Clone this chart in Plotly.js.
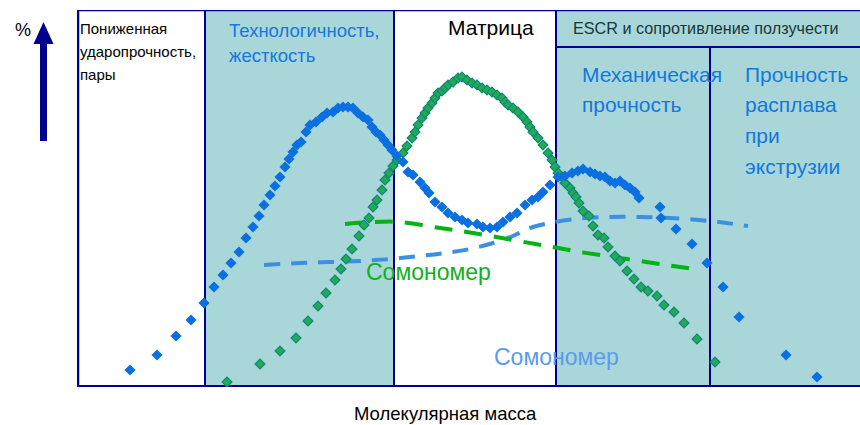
<!DOCTYPE html>
<html>
<head>
<meta charset="utf-8">
<script src="https://cdn.plot.ly/plotly-3.0.1.min.js"></script>
<style>html,body{margin:0;padding:0;background:#fff;}#chart{width:860px;height:425px;}</style>
</head>
<body>
<div id="chart"></div>
<script>
// Molecular mass (relative units) and percentage (relative units)
const blueX = [130,157,176,191,204,214,223,231,239,246,253,259,264,270,275,280,285,289,293,297,301,306,310,316,322,327,333,338,343,348,353,358,363,368,372,376,380,384,388,392,397,403,408,413,420,425,429,435,442,448,455,462,468,477,483,490,497,503,510,517,525,532,538,543,550,558,565,572,578,583,590,595,600,605,610,615,620,625,630,635,639,660,661,676,692,707,723,739,786,817];
const blueY = [17,32,51,67,84,100,112,124,135,149,160,171,182,192,201,210,220,228,235,242,245,255,262,265,270,274,275,279,280,280,279,274,270,267,260,255,252,247,242,237,231,225,215,212,205,199,194,185,180,174,170,167,164,163,160,159,160,165,170,174,182,187,190,195,202,210,211,214,216,218,215,213,211,210,206,204,206,202,199,195,189,180,169,158,143,124,100,70,32,10];

const greenX = [227,260,280,296,308,318,326,335,341,346,352,359,364,369,373,377,382,385,389,393,397,403,407,412,415,418,422,425,428,432,435,438,442,445,448,453,458,462,467,472,477,482,487,492,497,502,505,508,513,518,523,527,530,533,538,543,548,552,555,558,562,565,570,573,576,579,583,589,593,598,604,608,615,620,627,634,641,648,657,664,674,684,697,715];
const greenY = [5,23,36,49,66,81,94,107,118,128,138,151,162,169,180,187,197,207,214,221,227,234,241,249,255,262,269,274,279,284,289,294,296,299,302,305,309,310,307,304,302,299,297,295,292,289,285,282,279,275,270,265,260,255,249,242,234,227,220,214,210,204,199,194,190,184,176,171,161,152,149,140,131,126,116,108,100,96,91,82,75,64,48,25];

const comonomerGreenX = [345,373,400,440,473,513,547,580,620,660,694];
const comonomerGreenY = [163,165,165,159,154,147,141,135,129,123,118];

const comonomerBlueX = [264,300,330,360,390,420,445,470,493,513,530,550,575,607,640,670,710,748];
const comonomerBlueY = [122,124,125,126,128,131,134,138,144,151,159,164,168,170,170,169,166,161];

// Zone boundaries along the molecular mass axis
const zoneEdges = [77,205,394,556,710,860];

const NAVY = '#00008f';
const TEAL = '#a8d6d9';
const FONT = 'Liberation Sans, Arial, sans-serif';

const traces = [
  {x: comonomerBlueX, y: comonomerBlueY, mode:'lines', line:{color:'#3d8fe0', width:4, dash:'16px,11px', shape:'spline'}, hoverinfo:'skip'},
  {x: comonomerGreenX, y: comonomerGreenY, mode:'lines', line:{color:'#00b414', width:4, dash:'18px,12px', shape:'spline'}, hoverinfo:'skip'},
  {x: greenX, y: greenY, mode:'markers', marker:{symbol:'diamond', size:7.5, color:'#22aa55', line:{color:'#12877a', width:1.2}}, hoverinfo:'skip'},
  {x: blueX, y: blueY, mode:'markers', marker:{symbol:'diamond', size:8.6, color:'#0a6fe0', line:{width:0}}, hoverinfo:'skip'}
];

const Y1 = 377, YB = 47;
const yBand = 387 - YB;

const shapes = [
  {type:'rect', xref:'x', yref:'y', x0:zoneEdges[1], x1:zoneEdges[2], y0:2, y1:Y1, fillcolor:TEAL, line:{width:0}, layer:'below'},
  {type:'rect', xref:'x', yref:'y', x0:zoneEdges[3], x1:zoneEdges[5], y0:2, y1:Y1, fillcolor:TEAL, line:{width:0}, layer:'below'},
  {type:'line', xref:'x', yref:'y', x0:zoneEdges[0], x1:zoneEdges[5], y0:Y1, y1:Y1, line:{color:NAVY, width:2.5}, layer:'below'},
  {type:'line', xref:'x', yref:'y', x0:zoneEdges[0], x1:zoneEdges[5], y0:0.5, y1:0.5, line:{color:NAVY, width:3}, layer:'below'},
  {type:'line', xref:'x', yref:'y', x0:zoneEdges[0]+1, x1:zoneEdges[0]+1, y0:0, y1:Y1, line:{color:NAVY, width:2.5}, layer:'below'},
  {type:'line', xref:'x', yref:'y', x0:zoneEdges[1], x1:zoneEdges[1], y0:0, y1:Y1, line:{color:NAVY, width:2}, layer:'below'},
  {type:'line', xref:'x', yref:'y', x0:zoneEdges[2], x1:zoneEdges[2], y0:0, y1:Y1, line:{color:NAVY, width:2}, layer:'below'},
  {type:'line', xref:'x', yref:'y', x0:zoneEdges[3], x1:zoneEdges[3], y0:0, y1:Y1, line:{color:NAVY, width:2}, layer:'below'},
  {type:'line', xref:'x', yref:'y', x0:zoneEdges[4], x1:zoneEdges[4], y0:0, y1:yBand, line:{color:NAVY, width:2}, layer:'below'},
  {type:'line', xref:'x', yref:'y', x0:zoneEdges[3], x1:zoneEdges[5], y0:yBand, y1:yBand, line:{color:NAVY, width:2}, layer:'below'},
  {type:'path', xref:'paper', yref:'paper', path:'M -0.04725 0.6525 L -0.03831 0.6525 L -0.03831 0.9125 L -0.04725 0.9125 Z', fillcolor:NAVY, line:{width:0}},
  {type:'path', xref:'paper', yref:'paper', path:'M -0.05555 0.9100 L -0.03000 0.9100 L -0.04279 0.9685 Z', fillcolor:NAVY, line:{width:0}}
];

function ann(text, x, py, size, color, anchor){
  return {text:text, x:x, y:387-py, xref:'x', yref:'y', xanchor:anchor||'left', yanchor:'middle', showarrow:false,
          font:{family:FONT, size:size, color:color}};
}
const BLUE_T = '#1677dc';
const annotations = [
  ann('Пониженная', 78, 28, 15, '#000'),
  ann('ударопрочность,', 78, 51, 15, '#000'),
  ann('пары', 78, 74, 15, '#000'),
  ann('Технологичность,', 227, 30, 18.5, BLUE_T),
  ann('жесткость', 227, 55, 18.5, BLUE_T),
  ann('Матрица', 446, 27, 21, '#000'),
  ann('ESCR и сопротивление ползучести', 571, 28, 16.2, '#173838'),
  ann('Механическая', 580, 74, 21, BLUE_T),
  ann('прочность', 580, 104, 21, BLUE_T),
  ann('Прочность', 743, 74, 21, BLUE_T),
  ann('расплава', 743, 104, 21, BLUE_T),
  ann('при', 743, 135, 21, BLUE_T),
  ann('экструзии', 743, 166, 21, BLUE_T),
  ann('Сомономер', 364, 272, 23, '#10b020'),
  ann('Сомономер', 492, 357, 23, '#5a9ceb'),
  {text:'%', xref:'paper', yref:'paper', x:-0.069, y:0.947, xanchor:'center', yanchor:'middle', showarrow:false, font:{family:FONT, size:18, color:'#000'}},
  {text:'Молекулярная масса', xref:'paper', yref:'paper', x:0.47, y:-0.069, xanchor:'center', yanchor:'middle', showarrow:false, font:{family:FONT, size:18.5, color:'#000'}}
];

const layout = {
  width:860, height:425,
  margin:{l:77, r:0, t:10, b:38, pad:0},
  paper_bgcolor:'#fff', plot_bgcolor:'#fff',
  showlegend:false,
  xaxis:{range:[77,860], visible:false, fixedrange:true},
  yaxis:{range:[0,377], visible:false, fixedrange:true},
  shapes:shapes,
  annotations:annotations
};

Plotly.newPlot('chart', traces, layout, {displayModeBar:false, staticPlot:true});
</script>
</body>
</html>
